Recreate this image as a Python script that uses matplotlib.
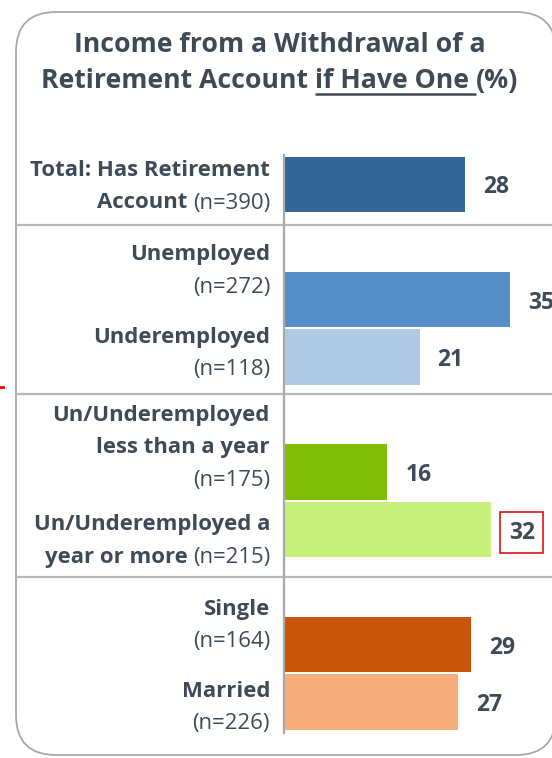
import matplotlib
matplotlib.use("Agg")
import matplotlib.pyplot as plt
from matplotlib.patches import FancyBboxPatch
import matplotlib.transforms as mtransforms

plt.rcParams['font.family'] = ['Open Sans', 'DejaVu Sans']

# data
values = [28, 35, 21, 16, 32, 29, 27]
# each label: list of lines, each line = (bold part, regular part)
label_lines = [
    [("Total: Has Retirement", ""), ("Account", "(n=390)")],
    [("Unemployed", ""), ("", "(n=272)")],
    [("Underemployed", ""), ("", "(n=118)")],
    [("Un/Underemployed", ""), ("less than a year", ""), ("", "(n=175)")],
    [("Un/Underemployed a", ""), ("year or more", "(n=215)")],
    [("Single", ""), ("", "(n=164)")],
    [("Married", ""), ("", "(n=226)")],
]
bar_colors = ['#346699', '#548DC8', '#B0CAE5', '#7FBE05', '#C8F07C', '#C9550A', '#F8AD7D']
highlight = 4  # "32" gets a red box

# layout (pixels)
W, H = 552, 758
slots = [0, 2, 3, 5, 6, 8, 9]
label_baselines = [176, 260, 343, 421, 530, 615, 697]
separators = [225, 394, 577]
TXT = '#3F4A58'
GRID = '#A8A8A8'

fig = plt.figure(figsize=(W / 100, H / 100), dpi=100)
bg = fig.add_axes([0, 0, 1, 1])
bg.set_xlim(0, W)
bg.set_ylim(H, 0)
bg.axis('off')

# rounded frame
box = FancyBboxPatch((16, 12), 540, 743, boxstyle="round,pad=0,rounding_size=40",
                     facecolor='white', edgecolor=GRID, linewidth=1.3)
bg.add_patch(box)
for y in separators:
    bg.plot([16, 556], [y, y], color='#B8B8B8', lw=1.6, solid_capstyle='butt')
bg.plot([0, 3], [387, 387], color='red', lw=2)

renderer = fig.canvas.get_renderer()


def width(t):
    return t.get_window_extent(renderer).width


# title
fs_title = 19.2
bg.text(280, 52, "Income from a Withdrawal of a", ha='center', va='baseline',
        fontsize=fs_title, weight='bold', color=TXT)
parts = ["Retirement Account", "if Have One", "(%)"]
tmp = [bg.text(0, -100, p, fontsize=fs_title, weight='bold') for p in parts + ["a a", "aa"]]
ws = [width(t) for t in tmp]
for t in tmp:
    t.remove()
sp = ws[3] - ws[4]
total = ws[0] + ws[1] + ws[2] + 2 * sp
x = 280 - total / 2
y2 = 88
for i, p in enumerate(parts):
    bg.text(x, y2, p, ha='left', va='baseline', fontsize=fs_title, weight='bold', color=TXT)
    if i == 1:
        bg.plot([x, x + ws[1] + sp], [y2 + 6, y2 + 6], color=TXT, lw=1.8, solid_capstyle='butt')
    x += ws[i] + sp

# category labels
fs_lab = 15.9
for lines, y0 in zip(label_lines, label_baselines):
    for j, (b, r) in enumerate(lines):
        y = y0 + j * 32.5
        xr = 270
        if r:
            t = bg.text(xr, y, r, ha='right', va='baseline', fontsize=fs_lab, color=TXT)
            xr -= width(t) + 5
        if b:
            bg.text(xr, y, b, ha='right', va='baseline', fontsize=fs_lab, weight='bold', color=TXT)

# bars
ax = fig.add_axes([284 / W, 1 - 733 / H, (W - 284) / W, (733 - 155) / H])
ax.patch.set_visible(False)
ax.barh(slots, values, height=0.96, color=bar_colors)
ax.set_xlim(0, (W - 284) / 6.46)
ax.set_ylim(9.539, -0.513)
for s in ['top', 'right', 'bottom']:
    ax.spines[s].set_visible(False)
ax.spines['left'].set_color(GRID)
ax.spines['left'].set_linewidth(1.6)
ax.set_xticks([])
ax.set_yticks([])

off = mtransforms.offset_copy(ax.transData, fig=fig, x=18, y=0, units='dots')
for i, (s, v) in enumerate(zip(slots, values)):
    t = ax.text(v, s, str(v), transform=off, ha='left', va='center_baseline',
                fontsize=16.5, weight='bold', color=TXT, clip_on=False)
    if i == highlight:
        t.set_bbox(dict(boxstyle='square,pad=0.38', facecolor='white', edgecolor='#E01010', lw=1.2))

fig.savefig('out.png', dpi=100)
